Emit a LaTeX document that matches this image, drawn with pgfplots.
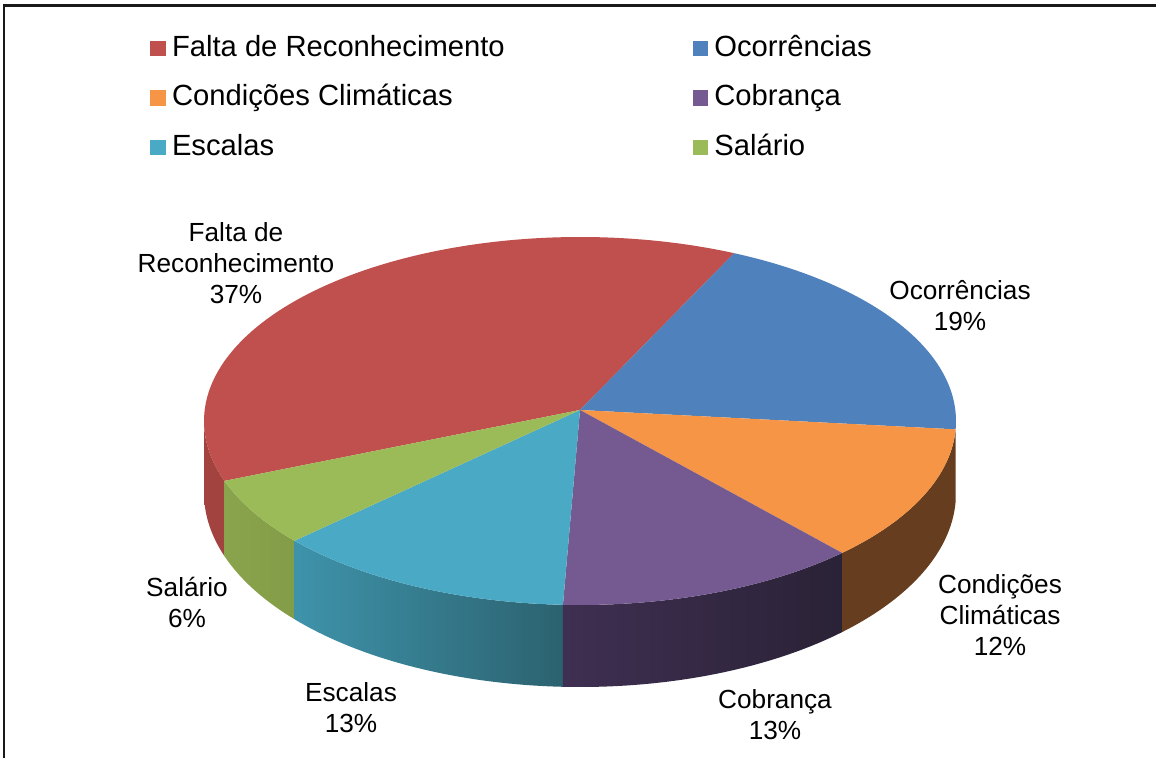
\documentclass[border=0pt]{standalone}
\usepackage{fontspec}
\setmainfont{Liberation Sans}
\usepackage{pgfplots}
\usepackage{pgfplotstable}
\pgfplotsset{compat=1.18}

% share of each category, in per cent, in the order of the legend
\pgfplotstableread{
idx pct
0 37
1 19
2 12
3 13
4 13
5 6
}\pietable

\definecolor{cRed}{HTML}{C0504D}
\definecolor{cBlue}{HTML}{4F81BD}
\definecolor{cOrange}{HTML}{F59545}
\definecolor{cPurple}{HTML}{745A90}
\definecolor{cTeal}{HTML}{4AAAC5}
\definecolor{cGreen}{HTML}{9BBB59}
\definecolor{sRed}{HTML}{A2433F}
\definecolor{sBlue}{HTML}{3A5F8C}
\definecolor{sOrange}{HTML}{663D1E}
\definecolor{sPurpleL}{HTML}{3F2F52}
\definecolor{sPurpleR}{HTML}{2A2236}
\definecolor{sTealL}{HTML}{3E93AA}
\definecolor{sTealR}{HTML}{2C6270}
\definecolor{sGreenL}{HTML}{8AA44D}
\definecolor{sGreenR}{HTML}{839C47}

\def\cx{580}\def\cy{421}\def\vx{580}\def\vy{410}\def\rx{376}\def\ry{184}

\newcommand\pietop[3]{%
  \addplot[forget plot, draw=none, fill=#3, domain=#1:#2, samples=120, variable=\t]
    ({\cx+\rx*cos(\t)},{\cy-\ry*sin(\t)}) -- (axis cs:\vx,\vy) -- cycle;}

\newcommand\pieside[4]{%
  \addplot[forget plot, draw=none, left color=#3, right color=#4,
    domain=0:201, samples=202, variable=\t]
    ({\cx+\rx*cos(ifthenelse(\t<100.5,#1+(#2-#1)*\t/100,#2-(#2-#1)*(\t-101)/100))},
     {\cy-\ry*sin(ifthenelse(\t<100.5,#1+(#2-#1)*\t/100,#2-(#2-#1)*(\t-101)/100))
      +ifthenelse(\t<100.5,0,72-10*sin(ifthenelse(\t<100.5,#1+(#2-#1)*\t/100,#2-(#2-#1)*(\t-101)/100)))})
    -- cycle;}

\newcommand\lab{\fontsize{13.1pt}{15.5pt}\selectfont}
\newcommand\leg{\fontsize{14.6pt}{17pt}\selectfont}

\begin{document}
\pgfplotstablegetelem{0}{pct}\of\pietable\edef\pA{\pgfplotsretval}%
\pgfplotstablegetelem{1}{pct}\of\pietable\edef\pB{\pgfplotsretval}%
\pgfplotstablegetelem{2}{pct}\of\pietable\edef\pC{\pgfplotsretval}%
\pgfplotstablegetelem{3}{pct}\of\pietable\edef\pD{\pgfplotsretval}%
\pgfplotstablegetelem{4}{pct}\of\pietable\edef\pE{\pgfplotsretval}%
\pgfplotstablegetelem{5}{pct}\of\pietable\edef\pF{\pgfplotsretval}%
\pgfmathsetmacro\aS{199}%
\pgfmathsetmacro\aA{\aS-3.6*\pA}%
\pgfmathsetmacro\aB{\aA-3.6*\pB}%
\pgfmathsetmacro\aC{\aB-3.6*\pC}%
\pgfmathsetmacro\aD{\aC-3.6*\pD}%
\pgfmathsetmacro\aE{\aD-3.6*\pE}%
\pgfmathsetmacro\aF{\aE-3.6*\pF}%
\begin{tikzpicture}
\begin{axis}[
  scale only axis, width=578pt, height=379pt,
  xmin=0, xmax=1156, ymin=0, ymax=758, y dir=reverse,
  axis lines=none, clip=false,
  legend columns=2,
  legend image code/.code={\fill[#1] (0pt,-3.6pt) rectangle (7.2pt,3.6pt);},
  legend style={draw=none, fill=none, at={(axis cs:150,34)}, anchor=north west,
    font=\leg, inner sep=0pt, row sep=10.8pt,
    nodes={inner sep=0pt, anchor=west, text height=11pt, text depth=3pt},
    /tikz/every odd column/.append style={column sep=3.2pt},
    /tikz/every even column/.append style={column sep=94pt}},
]
\coordinate (BL) at (axis cs:0,758);
\coordinate (TR) at (axis cs:1156,0);
% sides (front half)
\pieside{180}{\aS}{sRed}{sRed}
\pieside{\aF}{\aE}{sGreenL}{sGreenR}
\pieside{\aE}{\aD}{sTealL}{sTealR}
\pieside{\aD}{\aC}{sPurpleL}{sPurpleR}
\pieside{\aC}{\aB}{sOrange}{sOrange}
\pieside{\aB}{0}{sBlue}{sBlue}
% top faces
\pietop{\aA}{\aS}{cRed}
\pietop{\aB}{\aA}{cBlue}
\pietop{\aC}{\aB}{cOrange}
\pietop{\aD}{\aC}{cPurple}
\pietop{\aE}{\aD}{cTeal}
\pietop{\aF}{\aE}{cGreen}
% legend
\addlegendimage{cRed}\addlegendentry{Falta de Reconhecimento}
\addlegendimage{cBlue}\addlegendentry{Ocorrências}
\addlegendimage{cOrange}\addlegendentry{Condições Climáticas}
\addlegendimage{cPurple}\addlegendentry{Cobrança}
\addlegendimage{cTeal}\addlegendentry{Escalas}
\addlegendimage{cGreen}\addlegendentry{Salário}
% data labels
\node[align=center, font=\lab] at (axis cs:236,263) {Falta de\\Reconhecimento\\\pA\%};
\node[align=center, font=\lab] at (axis cs:960,306) {Ocorrências\\\pB\%};
\node[align=center, font=\lab] at (axis cs:1000,615) {Condições\\Climáticas\\\pC\%};
\node[align=center, font=\lab] at (axis cs:775,715) {Cobrança\\\pD\%};
\node[align=center, font=\lab] at (axis cs:351,708) {Escalas\\\pE\%};
\node[align=center, font=\lab] at (axis cs:187,602) {Salário\\\pF\%};
% frame
\draw[line width=1.1pt, black!90] (axis cs:4,758) -- (axis cs:4,5.5) -- (axis cs:1156,5.5);
\end{axis}
\pgfresetboundingbox
\path[use as bounding box] (BL) rectangle (TR);
\end{tikzpicture}
\end{document}
